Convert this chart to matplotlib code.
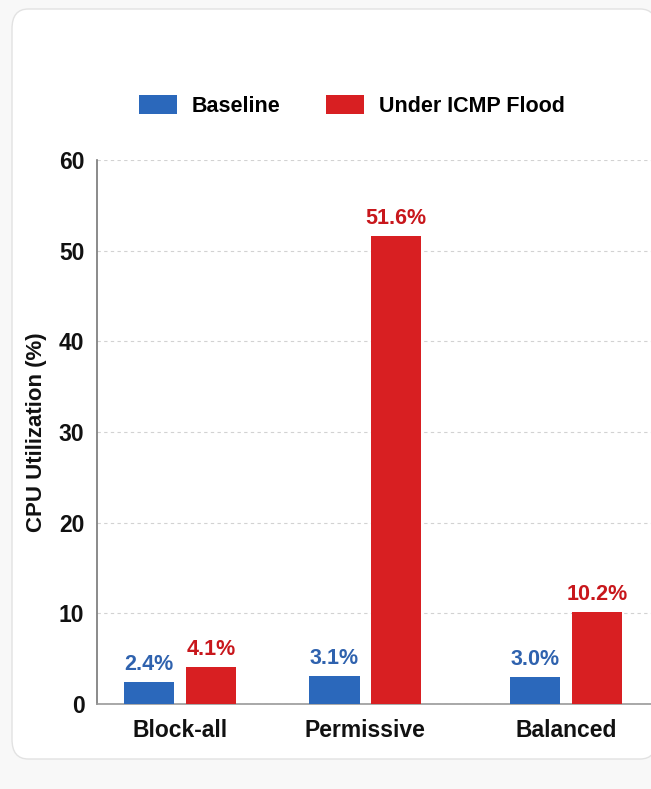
import numpy as np
import matplotlib.pyplot as plt
from matplotlib.patches import FancyBboxPatch

categories = ['Block-all', 'Permissive', 'Balanced']
baseline = [2.4, 3.1, 3.0]
flood = [4.1, 51.6, 10.2]
series_names = ['Baseline', 'Under ICMP Flood']
yticks = [0, 10, 20, 30, 40, 50, 60]

blue = '#2b68bb'
red = '#d81f22'
blue_txt = '#2f62ae'
red_txt = '#c8171c'

plt.rcParams['font.family'] = ['Liberation Sans', 'DejaVu Sans']

fig = plt.figure(figsize=(6.51, 7.89), dpi=100)
fig.patch.set_facecolor('#f8f8f8')

# card behind the chart
card = FancyBboxPatch((12 / 651, 30 / 789), 0.99, 750 / 789,
                      boxstyle='round,pad=0,rounding_size=0.025',
                      transform=fig.transFigure, facecolor='white',
                      edgecolor='#e2e2e2', linewidth=1.0, zorder=-5)
fig.patches.append(card)

ax = fig.add_axes([97 / 651, 1 - 704 / 789, 1 - 97 / 651, 544 / 789])
ax.set_zorder(2)
ax.set_facecolor('none')

x = np.array([0, 0.96, 2.0])
w = 0.26
off = 0.16
b1 = ax.bar(x - off, baseline, w, color=blue, label=series_names[0], zorder=3)
b2 = ax.bar(x + off, flood, w, color=red, label=series_names[1], zorder=3)

for rects, vals, c in [(b1, baseline, blue_txt), (b2, flood, red_txt)]:
    for r, v in zip(rects, vals):
        ax.annotate(f'{v:.1f}%', (r.get_x() + r.get_width() / 2, v),
                    xytext=(0, 5), textcoords='offset points',
                    ha='center', va='bottom', fontsize=15.5,
                    fontweight='bold', color=c, zorder=4)

ax.set_xlim(-0.43, 2.44)
ax.set_ylim(0, 60)
ax.set_yticks(yticks)
ax.set_xticks(x)
ax.set_xticklabels(categories)
ax.tick_params(axis='both', length=0, labelsize=16.5, colors='#111111')
ax.tick_params(axis='y', pad=9)
ax.tick_params(axis='x', pad=11)
for lab in ax.get_xticklabels() + ax.get_yticklabels():
    lab.set_fontweight('bold')

ax.grid(axis='y', linestyle=(0, (3, 3)), color='#d2d2d2', linewidth=0.8, zorder=0)
ax.set_axisbelow(True)
for s in ['top', 'right']:
    ax.spines[s].set_visible(False)
ax.spines['left'].set_color('#777777')
ax.spines['bottom'].set_color('#999999')
ax.spines['left'].set_linewidth(1.2)
ax.spines['bottom'].set_linewidth(1.2)

ax.set_ylabel('CPU Utilization (%)', fontsize=16, fontweight='bold', color='#111111')
ax.yaxis.set_label_coords(-50 / 554, 0.5)

fig.legend(handles=[b1, b2], labels=series_names, loc='center',
           bbox_to_anchor=(352 / 651, 1 - 106 / 789), ncol=2, frameon=False,
           handlelength=1.77, handleheight=0.93,
           columnspacing=2.1, handletextpad=0.7,
           prop={'weight': 'bold', 'size': 15.5})

fig.savefig('out.png', dpi=100, facecolor=fig.get_facecolor())
